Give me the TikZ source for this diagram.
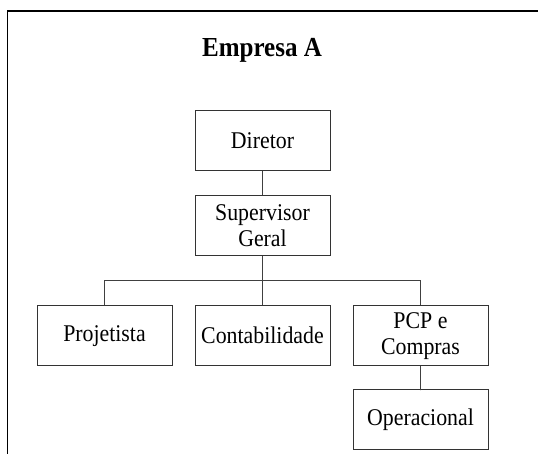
\documentclass[tikz,border=0pt]{standalone}
\usepackage{fontspec}
\setmainfont{Liberation Serif}[FakeStretch=0.91]

\begin{document}
\begin{tikzpicture}[x=1pt, y=1pt,
       edge from parent path=
    {(\tikzparentnode.south) -- (\tikzchildnode.north)},
    level 1/.style={level distance=85pt},
    level 2/.style={level distance=110pt, sibling distance=158pt,
       edge from parent path=
    {(\tikzparentnode.south) -- +(0,-24pt) -| (\tikzchildnode.north)}},
    level 3/.style={level distance=84pt},
   edge from parent/.style={draw, black!75, line width=1pt},
   every node/.style={draw=black!80, line width=1pt, rectangle, align=center,
      minimum width=135pt, minimum height=60pt, inner sep=2pt,
      font=\fontsize{24}{26}\selectfont}]

\useasboundingbox (0,0) rectangle (538,-454);
\draw[line width=1.5pt] (7.5,-454) -- (7.5,-11) -- (538,-11);

\node[draw=none, minimum width=0pt, minimum height=0pt,
      font=\fontsize{27.5}{30}\selectfont\bfseries] (title) at (262,-50) {Empresa A};

\node (dir) at (262.5,-140.7) {Diretor}
    child {node (sup) {Supervisor\\Geral}
        child {node (proj) {Projetista}}
        child {node (cont) {Contabilidade}}
        child {node (pcp) {PCP e\\Compras}
            child {node (oper) {Operacional}}
        }
    };

\end{tikzpicture}
\end{document}
